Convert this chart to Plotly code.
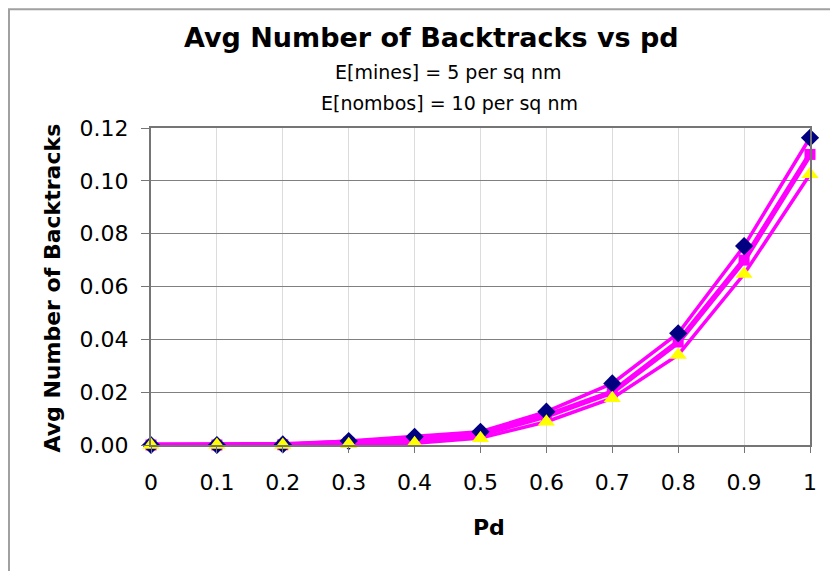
import plotly.graph_objects as go

pd_vals = [0, 0.1, 0.2, 0.3, 0.4, 0.5, 0.6, 0.7, 0.8, 0.9, 1.0]
tick_labels = ["0", "0.1", "0.2", "0.3", "0.4", "0.5", "0.6", "0.7", "0.8", "0.9", "1"]
series_blue = [0, 0, 0.0002, 0.0015, 0.0031, 0.0050, 0.0126, 0.0233, 0.0423, 0.0753, 0.1163]
series_magenta = [0, 0, 0.0001, 0.0010, 0.0020, 0.0040, 0.0110, 0.0200, 0.0390, 0.0700, 0.1100]
series_yellow = [0, 0, 0, 0.0003, 0.0007, 0.0026, 0.0088, 0.0177, 0.0341, 0.0647, 0.1025]

FONT = "DejaVu Sans"
MAG = "#FF00FF"

fig = go.Figure()
# lines first
for ys, w in [(series_blue, 3.5), (series_magenta, 5.5), (series_yellow, 3.5)]:
    fig.add_trace(go.Scatter(x=pd_vals, y=ys, mode="lines",
                             line=dict(color=MAG, width=w), showlegend=False,
                             hoverinfo="skip", cliponaxis=False))
# markers
fig.add_trace(go.Scatter(x=pd_vals, y=series_magenta, mode="markers",
                         marker=dict(symbol="square", size=11, color=MAG),
                         showlegend=False, cliponaxis=False))
fig.add_trace(go.Scatter(x=pd_vals, y=series_blue, mode="markers",
                         marker=dict(symbol="diamond", size=14, color="#000080"),
                         showlegend=False, cliponaxis=False))
fig.add_trace(go.Scatter(x=pd_vals, y=series_yellow, mode="markers",
                         marker=dict(symbol="triangle-up", size=15, color="#FFFF00"),
                         showlegend=False, cliponaxis=False))

fig.update_layout(
    width=838, height=571,
    margin=dict(l=143, r=36, t=120, b=134),
    paper_bgcolor="white", plot_bgcolor="white",
    font=dict(family=FONT, color="black"),
    showlegend=False,
    xaxis=dict(range=[0, 1], tickvals=pd_vals, ticktext=tick_labels,
               showgrid=True, gridcolor="#dcdcdc", gridwidth=1,
               showline=True, linecolor="#757575", linewidth=2, mirror=True,
               ticks="outside", ticklen=6, tickcolor="#757575",
               tickfont=dict(size=22, family=FONT), ticklabelstandoff=11,
               zeroline=False),
    yaxis=dict(range=[0, 0.12], dtick=0.02, tickformat=".2f",
               showgrid=True, gridcolor="#808080", gridwidth=1,
               showline=True, linecolor="#757575", linewidth=2, mirror=True,
               ticks="outside", ticklen=8, tickcolor="#757575",
               tickfont=dict(size=22, family=FONT), ticklabelstandoff=8,
               zeroline=False),
    shapes=[dict(type="rect", xref="paper", yref="paper",
                 x0=-0.2155, x1=1.2, y0=-0.6, y1=1.375,
                 line=dict(color="#a0a0a0", width=2), layer="below")],
    annotations=[
        dict(text="<b>Avg Number of Backtracks vs pd</b>", xref="paper", yref="paper",
             x=0.4264, y=1.287, xanchor="center", yanchor="middle", showarrow=False,
             font=dict(size=27, family=FONT)),
        dict(text="E[mines] = 5 per sq nm", xref="paper", yref="paper",
             x=0.4507, y=1.1767, xanchor="center", yanchor="middle", showarrow=False,
             font=dict(size=19, family=FONT)),
        dict(text="E[nombos] = 10 per sq nm", xref="paper", yref="paper",
             x=0.4537, y=1.0789, xanchor="center", yanchor="middle", showarrow=False,
             font=dict(size=19, family=FONT)),
        dict(text="<b>Avg Number of Backtracks</b>", xref="paper", yref="paper",
             x=-0.150, y=0.494, xanchor="center", yanchor="middle", showarrow=False,
             textangle=-90, font=dict(size=22, family=FONT)),
        dict(text="<b>Pd</b>", xref="paper", yref="paper",
             x=0.513, y=-0.259, xanchor="center", yanchor="middle", showarrow=False,
             font=dict(size=22, family=FONT)),
    ],
)

fig.write_html("out.html")
